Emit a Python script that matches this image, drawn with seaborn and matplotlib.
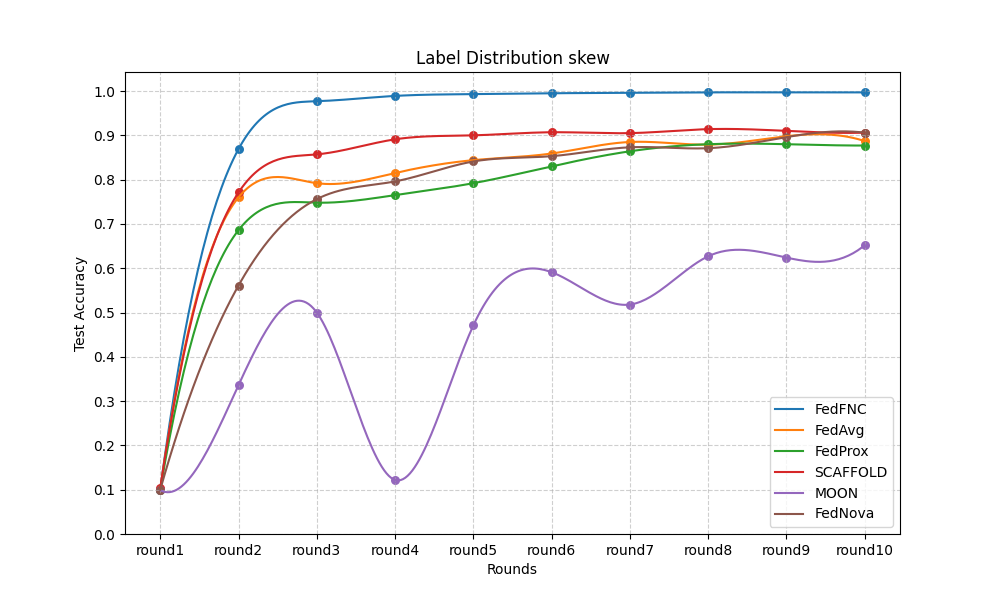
import numpy as np
import pandas as pd
import matplotlib
matplotlib.use("Agg")
import matplotlib.pyplot as plt
import seaborn as sns

# values
rounds = ["round1", "round2", "round3", "round4", "round5",
          "round6", "round7", "round8", "round9", "round10"]
fedfnc = [0.100, 0.869, 0.977, 0.989, 0.993, 0.995, 0.996, 0.997, 0.997, 0.997]
fedavg = [0.100, 0.760, 0.792, 0.815, 0.844, 0.859, 0.885, 0.879, 0.898, 0.887]
fedprox = [0.100, 0.686, 0.748, 0.765, 0.792, 0.830, 0.864, 0.880, 0.880, 0.877]
scaffold = [0.104, 0.771, 0.857, 0.891, 0.900, 0.907, 0.905, 0.914, 0.910, 0.906]
moon = [0.099, 0.336, 0.500, 0.122, 0.471, 0.591, 0.518, 0.627, 0.624, 0.652]
fednova = [0.100, 0.561, 0.756, 0.796, 0.841, 0.853, 0.873, 0.871, 0.896, 0.906]

series = {"FedFNC": fedfnc, "FedAvg": fedavg, "FedProx": fedprox,
          "SCAFFOLD": scaffold, "MOON": moon, "FedNova": fednova}


# cubic spline (not-a-knot) for drawing the smooth curve through the points
def spline(y, num=300):
    y = np.asarray(y, dtype=float)
    n = len(y)
    A = np.zeros((n, n))
    b = np.zeros(n)
    A[0, :3] = [1, -2, 1]
    A[-1, -3:] = [1, -2, 1]
    for i in range(1, n - 1):
        A[i, i - 1:i + 2] = [1, 4, 1]
        b[i] = 6 * (y[i + 1] - 2 * y[i] + y[i - 1])
    M = np.linalg.solve(A, b)
    t = np.linspace(0, n - 1, num)
    i = np.clip(np.floor(t).astype(int), 0, n - 2)
    a = (i + 1) - t
    c = t - i
    s = (M[i] * a**3 / 6 + M[i + 1] * c**3 / 6
         + (y[i] - M[i] / 6) * a + (y[i + 1] - M[i + 1] / 6) * c)
    return t, s


fig, ax = plt.subplots(figsize=(10, 6), dpi=100)
colors = sns.color_palette("tab10")
x = np.arange(len(rounds))

for k, (name, vals) in enumerate(series.items()):
    xs, ys = spline(vals)
    sns.lineplot(x=xs, y=ys, ax=ax, color=colors[k], label=name, linewidth=1.5)
    sns.scatterplot(x=x, y=vals, ax=ax, color=colors[k], s=42, linewidth=0)

ax.set_xticks(x)
ax.set_xticklabels(rounds)
ax.set_yticks(np.arange(0, 1.01, 0.1))
ax.set_ylim(0, 1.043)
ax.set_xlim(-0.45, 9.45)
ax.grid(True, linestyle="--", alpha=0.6)
ax.set(title="Label Distribution skew", xlabel="Rounds", ylabel="Test Accuracy")
ax.legend(loc="lower right")

fig.savefig("out.png")
